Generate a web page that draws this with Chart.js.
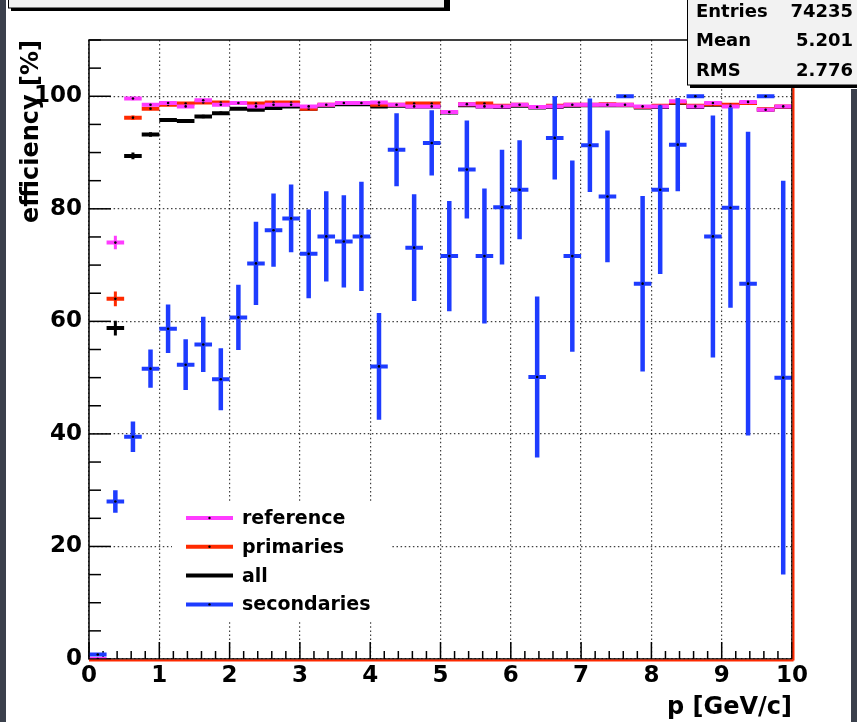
<!DOCTYPE html>
<html><head><meta charset="utf-8">
<script src="https://cdn.jsdelivr.net/npm/chart.js@4/dist/chart.umd.min.js"></script>
<style>html,body{margin:0;padding:0;background:#fff;}#wrap{width:857px;height:722px;}</style>
</head><body><div id="wrap"><canvas id="c" width="857" height="722"></canvas></div>
<script>
// ---- data ----
const binCenters = [0.125,0.375,0.625,0.875,1.125,1.375,1.625,1.875,2.125,2.375,2.625,2.875,3.125,3.375,3.625,3.875,4.125,4.375,4.625,4.875,5.125,5.375,5.625,5.875,6.125,6.375,6.625,6.875,7.125,7.375,7.625,7.875,8.125,8.375,8.625,8.875,9.125,9.375,9.625,9.875];
const binHalfWidth = 0.125;
const seriesNames = ['reference','primaries','all','secondaries'];
const reference = [0,74,99.6,98.5,98.8,98.2,99.3,98.5,98.8,98.2,98.5,98.5,98.2,98.5,98.8,98.8,98.9,98.5,98.2,98.2,97.2,98.6,98.2,98.2,98.5,98.1,98.2,98.5,98.5,98.5,98.5,98.2,98.2,99.1,98.2,98.8,98.2,99.0,97.6,98.2];
const referenceErr = [0,1.2,0.3,0.2,0.2,0.2,0.2,0.2,0.2,0.2,0.2,0.2,0.2,0.2,0.2,0.2,0.2,0.2,0.2,0.2,0.3,0.2,0.2,0.2,0.2,0.2,0.2,0.2,0.2,0.2,0.2,0.2,0.2,0.2,0.2,0.2,0.2,0.2,0.3,0.3];
const primaries = [null,64,96.2,97.8,98.5,98.7,98.9,98.9,98.8,98.7,98.9,98.9,97.8,98.5,98.8,98.8,98.5,98.5,98.7,98.7,97.2,98.6,98.7,98.3,98.5,98.1,98.3,98.5,98.5,98.6,98.5,98.1,98.3,98.9,98.3,98.6,98.5,98.8,97.7,98.2];
const primariesErr = [0,1.3,0.4,0.3,0.2,0.2,0.2,0.2,0.2,0.2,0.2,0.2,0.2,0.2,0.2,0.2,0.2,0.2,0.2,0.2,0.3,0.2,0.2,0.2,0.2,0.2,0.2,0.2,0.2,0.2,0.2,0.2,0.2,0.2,0.2,0.2,0.2,0.2,0.3,0.3];
const all = [null,58.8,89.4,93.2,95.8,95.6,96.4,97.0,97.8,97.6,97.9,98.2,97.8,98.3,98.6,98.6,98.2,98.3,98.2,98.2,97.1,98.4,98.2,98.1,98.3,98.0,98.1,98.3,98.4,98.4,98.4,98.0,98.1,98.8,98.1,98.5,98.3,98.8,97.6,98.1];
const allErr = [0,1.3,0.6,0.4,0.3,0.3,0.3,0.3,0.2,0.2,0.2,0.2,0.2,0.2,0.2,0.2,0.2,0.2,0.2,0.2,0.3,0.2,0.2,0.2,0.2,0.2,0.2,0.2,0.2,0.2,0.2,0.2,0.2,0.2,0.2,0.2,0.2,0.2,0.3,0.3];
const secondaries = [0.8,28,39.5,51.6,58.7,52.3,55.9,49.7,60.7,70.3,76.2,78.3,72.0,75.1,74.2,75.1,52.0,90.5,73.1,91.7,71.6,87.0,71.6,80.3,83.4,50.1,92.6,71.6,91.3,82.2,100,66.7,83.4,91.4,100,75.1,80.2,66.7,100,50.0];
const secondariesErr = [0,2.0,2.7,3.4,4.3,4.5,4.9,5.5,5.8,7.4,6.5,6.0,7.9,8.0,8.2,9.7,9.5,6.5,9.5,5.8,9.8,8.7,12.0,10.2,8.8,14.3,7.4,17.0,8.3,11.7,0,15.6,15.0,8.3,0,21.5,17.8,27.0,0,35.0];
const xTickValues = [0,1,2,3,4,5,6,7,8,9,10];
const yTickValues = [0,20,40,60,80,100];
const statsLabels = ['Entries','Mean','RMS'];
const statsValues = ['74235','5.201','2.776'];

// ---- styling ----
const colors = ['#ff3cff','#ff2a00','#000000','#1e3cff'];
const FONT = "'DejaVu Sans', sans-serif";

function hSeg(vals){
  const pts=[];
  binCenters.forEach((c,i)=>{
    const v=vals[i]; if(v===null||v===undefined) return;
    pts.push({x:c-binHalfWidth,y:v},{x:c,y:v,mid:true},{x:c+binHalfWidth,y:v},{x:c+binHalfWidth,y:null});
  });
  return pts;
}
function vErr(vals,errs){
  const pts=[];
  binCenters.forEach((c,i)=>{
    const v=vals[i], e=errs[i]; if(v===null||v===undefined||!e) return;
    pts.push({x:c,y:v-e},{x:c,y:v+e},{x:c,y:null});
  });
  return pts;
}
const seriesVals=[reference,primaries,all,secondaries];
const seriesErrs=[referenceErr,primariesErr,allErr,secondariesErr];
const drawOrder=[1,2,3,0]; // lower = on top
const datasets=[];
seriesVals.forEach((vals,s)=>{
  const base={showLine:true,borderColor:colors[s],backgroundColor:colors[s],borderCapStyle:'butt',
    spanGaps:false,tension:0,order:drawOrder[s]*2};
  datasets.push(Object.assign({},base,{label:seriesNames[s]+' err',data:vErr(vals,seriesErrs[s]),
    borderWidth:s===3?4.5:3,pointRadius:0}));
  datasets.push(Object.assign({},base,{label:seriesNames[s],data:hSeg(vals),borderWidth:4,
    pointRadius:ctx=>(ctx.raw&&ctx.raw.mid)?1.3:0,pointBackgroundColor:'#000',pointBorderWidth:0,
    order:drawOrder[s]*2-1}));
});

function line(ctx,x1,y1,x2,y2){ctx.beginPath();ctx.moveTo(x1,y1);ctx.lineTo(x2,y2);ctx.stroke();}

const deco={
  id:'deco',
  beforeDatasetsDraw(chart){
    const {ctx,chartArea:a,scales:{x,y}}=chart;
    ctx.save();
    // legend box (white, hides grid)
    ctx.fillStyle='#fff';
    ctx.fillRect(172,503,220,119);
    // inward ticks
    ctx.strokeStyle='#000'; ctx.lineWidth=1.5;
    for(let k=0;k<=22;k++){
      const v=k*5; const py=y.getPixelForValue(v);
      line(ctx,a.left,py,a.left+(v%20===0?22:12),py);
    }
    for(let k=0;k<=50;k++){
      const px=x.getPixelForValue(k*0.2);
      line(ctx,px,a.bottom,px,a.bottom-(k%5===0?17:8));
    }
    ctx.restore();
  },
  afterDatasetsDraw(chart){
    const {ctx,chartArea:a}=chart;
    ctx.save();
    // frame
    ctx.strokeStyle='#000'; ctx.lineWidth=1.5;
    ctx.strokeRect(a.left,a.top,a.right-a.left,a.bottom-a.top);
    ctx.strokeStyle='#ff2a00'; ctx.lineWidth=2;
    line(ctx,a.left,a.bottom+1.5,a.right+1.5,a.bottom+1.5);
    line(ctx,a.right+1.5,a.top,a.right+1.5,a.bottom+1.5);
    // legend entries
    seriesNames.forEach((n,i)=>{
      const ly=518+i*28.8;
      ctx.strokeStyle=colors[i]; ctx.lineWidth=4;
      line(ctx,186,ly,233,ly);
      ctx.fillStyle='#000'; ctx.beginPath(); ctx.arc(209.5,ly,1.2,0,Math.PI*2); ctx.fill();
      ctx.font='bold 19px '+FONT; ctx.textBaseline='middle'; ctx.textAlign='left';
      ctx.fillText(n,242,ly+1);
    });
    // title box (cut off at top)
    ctx.fillStyle='#000'; ctx.fillRect(11,-10,439,21);
    ctx.fillStyle='#f2f2f2'; ctx.fillRect(8,-10,437,18);
    ctx.strokeStyle='#000'; ctx.lineWidth=1; ctx.strokeRect(8.5,-10,436,18);
    // stats box
    ctx.fillStyle='#000'; ctx.fillRect(690,-10,180,98);
    ctx.fillStyle='#f2f2f2'; ctx.fillRect(687,-10,180,95);
    ctx.strokeStyle='#000'; ctx.lineWidth=1; ctx.strokeRect(687.5,-10,180,95);
    ctx.fillStyle='#000'; ctx.font='bold 18px '+FONT; ctx.textBaseline='middle';
    statsLabels.forEach((l,i)=>{
      const ty=12+i*29.5;
      ctx.textAlign='left'; ctx.fillText(l,696,ty);
      ctx.textAlign='right'; ctx.fillText(statsValues[i],853,ty);
    });
    // side strips
    ctx.fillStyle='#3b404c';
    ctx.fillRect(0,0,6,722);
    ctx.fillRect(851,89,6,633);
    ctx.restore();
  }
};

new Chart(document.getElementById('c'),{
  type:'scatter',
  data:{datasets},
  plugins:[deco],
  options:{
    responsive:false,animation:false,events:[],
    layout:{padding:{left:0,top:40,right:65,bottom:0}},
    plugins:{legend:{display:false},tooltip:{enabled:false},title:{display:false}},
    scales:{
      x:{type:'linear',min:0,max:10,
        afterFit:s=>{s.height=63;},
        afterBuildTicks:s=>{s.ticks=xTickValues.map(v=>({value:v}));},
        grid:{color:'rgba(0,0,0,0.75)',lineWidth:1.2,drawTicks:false},
        border:{display:false,dash:[1.5,2.6]},
        ticks:{autoSkip:false,maxRotation:0,padding:3,color:'#000',font:{family:FONT,weight:'bold',size:23}},
        title:{display:true,text:'p [GeV/c]',align:'end',color:'#000',padding:{top:0,bottom:0},
          font:{family:FONT,weight:'bold',size:24}}
      },
      y:{type:'linear',min:0,max:110,
        afterFit:s=>{s.width=89;},
        afterBuildTicks:s=>{s.ticks=yTickValues.map(v=>({value:v}));},
        grid:{color:'rgba(0,0,0,0.75)',lineWidth:1.2,drawTicks:false},
        border:{display:false,dash:[1.5,2.6]},
        ticks:{padding:7,color:'#000',font:{family:FONT,weight:'bold',size:23}},
        title:{display:true,text:'efficiency [%]',align:'end',color:'#000',padding:{top:17,bottom:0},
          font:{family:FONT,weight:'bold',size:24}}
      }
    }
  }
});
</script></body></html>
